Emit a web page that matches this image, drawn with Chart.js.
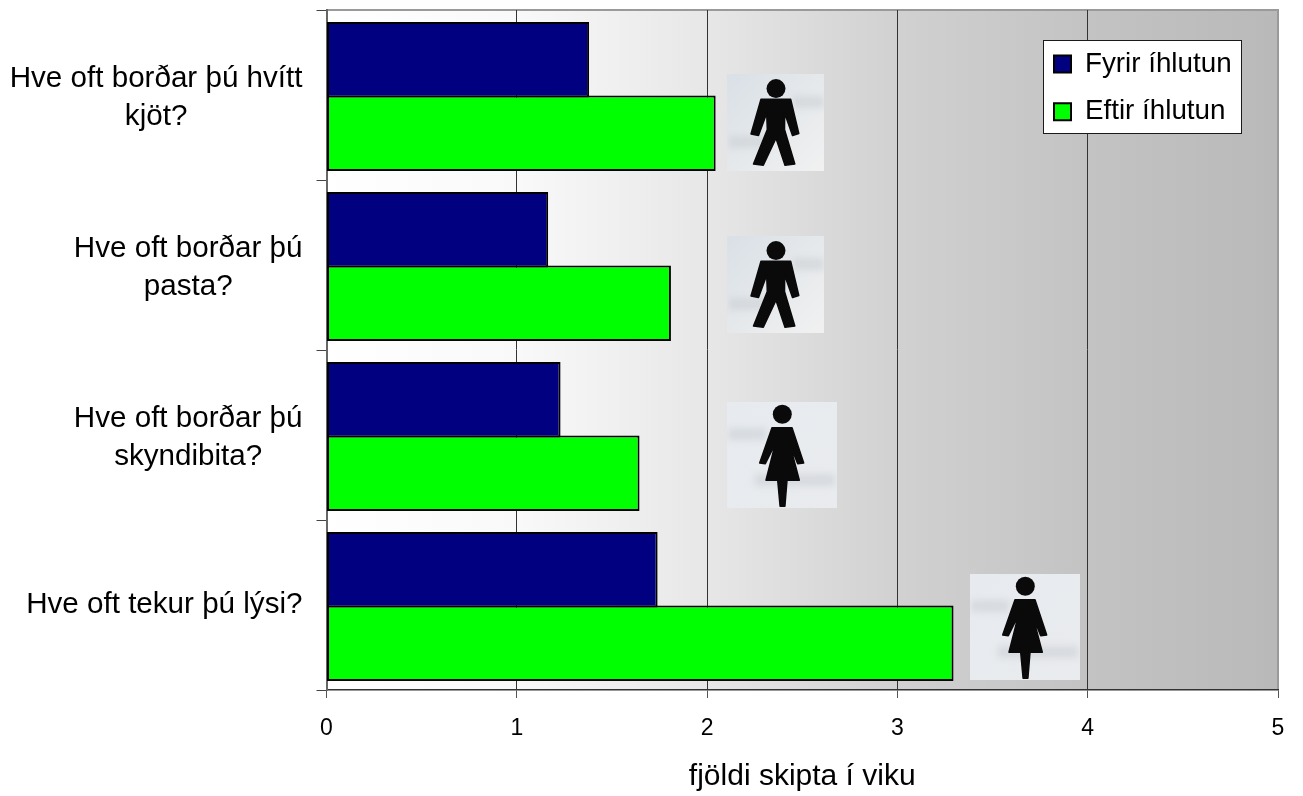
<!DOCTYPE html>
<html>
<head>
<meta charset="utf-8">
<script src="https://cdn.jsdelivr.net/npm/chart.js@4"></script>
<style>
html,body{margin:0;padding:0;background:#fff}
#wrap{position:absolute;left:0;top:0;width:1303px;height:796px}
</style>
</head>
<body>
<div id="wrap"><canvas id="c" width="1303" height="796"></canvas></div>
<script>
const categories = [
  ['Hve oft borðar þú hvítt', 'kjöt?'],
  ['Hve oft borðar þú', 'pasta?'],
  ['Hve oft borðar þú', 'skyndibita?'],
  ['Hve oft tekur þú lýsi?']
];
const seriesNames = ['Fyrir íhlutun', 'Eftir íhlutun'];
const fyrir = [1.38, 1.165, 1.23, 1.74];
const eftir = [2.045, 1.81, 1.645, 3.295];
const xTicks = [0, 1, 2, 3, 4, 5];
const xTitle = 'fjöldi skipta í viku';
const iconKinds = ['male', 'male', 'female', 'female'];
const iconStart = [2.105, 2.105, 2.105, 3.38];
const iconShift = [0.162, 0.115, 0.118, 0.132];

const FONT = '"Liberation Sans", Arial, sans-serif';
const maleShape = new Path2D('M34 25.3L63.7 25.3L71.8 59.5L65.5 61.5L57.7 39.3L57.5 55.5L67.8 90L58 91.3L49 64.3L36.3 91.3L26.5 90L40.3 55.5L39.7 39.3L31.5 61.5L24 60Z');
const femaleShape = new Path2D('M45 25.7L65 25.7L76.7 61L70.7 61.7L62.7 41.7L72.3 78.3L60 78.3L57.9 104.3L53.1 104.3L50.7 78.3L39 78.3L48.3 41.7L38.3 61.7L32.7 61Z');
const iconSpec = {
  male: {w: 97, h: 97, shape: maleShape, hx: 49, hy: 14.6, stops: ['#d9e0e6', '#f1f1f1'], smudges: [[66, 22, 31, 12], [2, 62, 38, 12]]},
  female: {w: 110, h: 106, shape: femaleShape, hx: 55.3, hy: 12.3, stops: ['#e7ebef', '#e9ebee'], smudges: [[1, 26, 38, 12], [28, 72, 80, 12]]}
};

const backdrop = {
  id: 'backdrop',
  beforeDraw(chart) {
    const {ctx, chartArea: a} = chart;
    const g = ctx.createLinearGradient(a.left, 0, a.right, 0);
    g.addColorStop(0, '#ffffff');
    g.addColorStop(0.2, '#f9f9f9');
    g.addColorStop(0.4, '#e7e7e7');
    g.addColorStop(0.6, '#d1d1d1');
    g.addColorStop(0.8, '#c3c3c3');
    g.addColorStop(1, '#b9b9b9');
    ctx.save();
    ctx.fillStyle = g;
    ctx.fillRect(a.left, a.top, a.right - a.left, a.bottom - a.top);
    ctx.strokeStyle = '#9a9a9a';
    ctx.lineWidth = 2;
    ctx.beginPath();
    ctx.moveTo(a.left, a.top);
    ctx.lineTo(a.right, a.top);
    ctx.lineTo(a.right, a.bottom);
    ctx.stroke();
    ctx.restore();

    // Centre every line of each category label on that label's own width.
    const y = chart.scales.y;
    const items = y.getLabelItems(a);
    if (!items._centred) {
      items._centred = true;
      ctx.save();
      ctx.font = items[0].font.string;
      items.forEach(it => {
        const lines = [].concat(it.label);
        const w = Math.max(...lines.map(l => ctx.measureText(l).width));
        it.options.textAlign = 'center';
        const dy = lines.length > 1 ? 3 : 0;
        it.options.translation = [it.options.translation[0] - w / 2, it.options.translation[1] + dy];
      });
      ctx.restore();
    }

    // Legend panel is painted right before the legend itself, above the grid.
    const lg = chart.legend;
    if (!lg._panelled) {
      lg._panelled = true;
      const orig = lg.draw;
      lg.draw = function () {
        const c = chart.ctx;
        c.save();
        c.fillStyle = '#ffffff';
        c.strokeStyle = '#1a1a1a';
        c.lineWidth = 1;
        c.fillRect(this.left + 9.5, this.top + 10.5, 198, 93);
        c.strokeRect(this.left + 9.5, this.top + 10.5, 198, 93);
        c.restore();
        orig.call(this);
      };
    }
  },
  afterLayout(chart) {
    const lg = chart.legend, a = chart.chartArea;
    lg.left = a.right - 244;
    lg.right = a.right - 30;
    lg.top = a.top + 20;
    lg.bottom = a.top + 200;
  },
  beforeDatasetsDraw(chart) {
    chart.ctx.save();
    chart.ctx.translate(0, 1.5);
  },
  afterDatasetsDraw(chart) {
    const {ctx, scales: {x, y}} = chart;
    ctx.restore();
    const band = y.getPixelForValue(1) - y.getPixelForValue(0);
    iconKinds.forEach((kind, i) => {
      const s = iconSpec[kind];
      const left = Math.round(x.getPixelForValue(iconStart[i]));
      const top = Math.round(y.getPixelForValue(i) + iconShift[i] * band - s.h / 2);
      ctx.save();
      ctx.translate(left, top);
      const g = ctx.createLinearGradient(0, 0, s.w, s.h);
      g.addColorStop(0, s.stops[0]);
      g.addColorStop(1, s.stops[1]);
      ctx.fillStyle = g;
      ctx.fillRect(0, 0, s.w, s.h);
      ctx.save();
      ctx.beginPath();
      ctx.rect(0, 0, s.w, s.h);
      ctx.clip();
      ctx.filter = 'blur(3px)';
      ctx.fillStyle = 'rgba(190,195,200,0.4)';
      s.smudges.forEach(r => ctx.fillRect(r[0], r[1], r[2], r[3]));
      ctx.restore();
      ctx.filter = 'blur(0.6px)';
      ctx.fillStyle = '#0a0a0a';
      ctx.strokeStyle = '#0a0a0a';
      ctx.lineJoin = 'round';
      ctx.lineWidth = 1.5;
      ctx.fill(s.shape);
      ctx.stroke(s.shape);
      ctx.beginPath();
      ctx.arc(s.hx, s.hy, 9.5, 0, Math.PI * 2);
      ctx.fill();
      ctx.restore();
    });
  }
};

new Chart(document.getElementById('c'), {
  type: 'bar',
  data: {
    labels: categories,
    datasets: [
      {label: seriesNames[0], data: fyrir, backgroundColor: '#000080', borderColor: '#000000', borderWidth: 2, borderSkipped: false, categoryPercentage: 0.865, barPercentage: 1.027},
      {label: seriesNames[1], data: eftir, backgroundColor: '#00ff00', borderColor: '#000000', borderWidth: 2, borderSkipped: false, categoryPercentage: 0.865, barPercentage: 1.027}
    ]
  },
  plugins: [backdrop],
  options: {
    indexAxis: 'y',
    responsive: false,
    animation: false,
    layout: {padding: {left: 0, right: 25, top: 10, bottom: 1}},
    plugins: {
      tooltip: {enabled: false},
      legend: {
        position: 'chartArea',
        align: 'start',
        labels: {
          font: {family: FONT, size: 27.8},
          color: '#000',
          boxWidth: 17,
          boxHeight: 17,
          padding: 20
        }
      }
    },
    scales: {
      x: {
        min: xTicks[0],
        max: xTicks[xTicks.length - 1],
        afterBuildTicks(s) { s.ticks = xTicks.map(v => ({value: v})); },
        afterFit(s) { s.height = 105; },
        border: {color: '#333', width: 1.5},
        grid: {
          color: c => c.tick && c.tick.value === 5 ? '#9a9a9a' : '#333',
          tickColor: '#555',
          tickLength: 8,
          lineWidth: 1
        },
        ticks: {
          maxRotation: 0,
          padding: 17,
          color: '#000',
          font: {family: FONT, size: 23}
        },
        title: {
          display: true,
          text: xTitle,
          color: '#000',
          font: {family: FONT, size: 30},
          padding: {top: 14, bottom: 0}
        }
      },
      y: {
        afterFit(s) { s.width = 326.5; s.paddingTop = 0; s.paddingBottom = 0; },
        border: {color: '#666', width: 2},
        grid: {
          drawOnChartArea: false,
          tickColor: '#444',
          tickLength: 10
        },
        ticks: {
          autoSkip: false,
          padding: 14,
          color: '#000',
          font: {family: FONT, size: 29.6, lineHeight: 1.28}
        }
      }
    }
  }
});
</script>
</body>
</html>
